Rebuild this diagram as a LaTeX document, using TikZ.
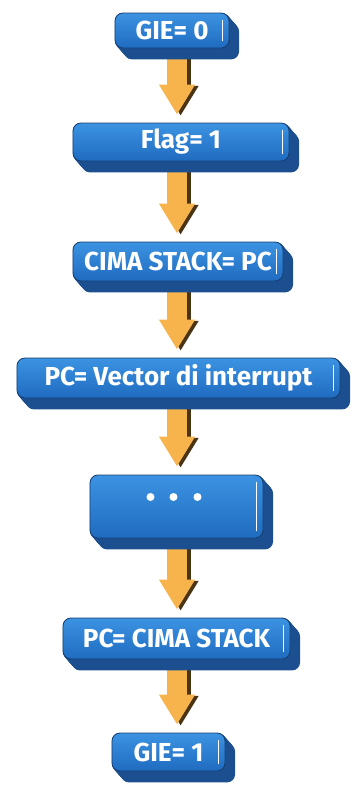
\documentclass[tikz,border=0pt]{standalone}
\usepackage{fontspec}
\setmainfont{Fira Sans}
\usetikzlibrary{arrows.meta}

\definecolor{facetop}{HTML}{3C93E2}
\definecolor{facebot}{HTML}{1F6BC0}
\definecolor{sidecol}{HTML}{1B4F8F}
\definecolor{rimcol}{HTML}{173F72}
\definecolor{arrowcol}{HTML}{F7B44C}
\definecolor{arrowdark}{HTML}{4A3414}

\pgfdeclarelayer{arrowlayer}
\pgfdeclarelayer{sidelayer}
\pgfsetlayers{arrowlayer,sidelayer,main}

\tikzset{
  stepbox/.style={draw=rimcol, line width=0.6pt, rounded corners=0.2cm,
    top color=facetop, bottom color=facebot, text=white, inner sep=0pt,
    font=\fontsize{18.5}{21}\selectfont\bfseries},
  flowarrow/.style={draw=arrowcol, line width=0.5cm,
    -{Triangle[width=0.85cm,length=0.75cm]}, shorten >=0.2cm},
  flowshadow/.style={flowarrow, draw=arrowdark,
    transform canvas={xshift=0.09cm, yshift=-0.03cm}}
}

\begin{document}
\begin{tikzpicture}[x=0.025cm, y=-0.025cm]
  \useasboundingbox (0,0) rectangle (358,785);

  % Steps of the interrupt sequence
  \node[stepbox, minimum width=2.85cm, minimum height=0.875cm] (gie0) at (172,30.5) {GIE= 0};
  \node[stepbox, minimum width=5.4cm, minimum height=0.95cm] (flag) at (181,142) {Flag= 1};
  \node[stepbox, minimum width=5.25cm, minimum height=0.975cm] (push) at (178,261.5) {CIMA STACK= PC};
  \node[stepbox, minimum width=8.075cm, minimum height=1cm] (vector) at (178.5,378) {PC= Vector di interrupt};
  \node[stepbox, minimum width=4.325cm, minimum height=1.575cm] (dots) at (176.5,506.5) {};
  \node[stepbox, minimum width=5.675cm, minimum height=1.025cm] (pop) at (176.5,638.5) {PC= CIMA STACK};
  \node[stepbox, minimum width=2.825cm, minimum height=0.95cm] (gie1) at (168.5,752) {GIE= 1};

  % Dots in the empty step
  \foreach \dx in {-26,-3,21}
    \fill[white] ([shift={(\dx,-9.5)}]dots.center) circle (0.1cm);

  % Extruded sides and highlight bars
  \foreach \n in {gie0,flag,push,vector,dots,pop,gie1} {
    \begin{pgfonlayer}{sidelayer}
      \foreach \k in {1,...,20}
        \fill[sidecol, rounded corners=0.2cm]
          ([shift={({\k*0.48},{\k*0.55})}]\n.north west)
          rectangle ([shift={({\k*0.48},{\k*0.55})}]\n.south east);
    \end{pgfonlayer}
    \draw[white, line width=1pt, line cap=round]
      ([shift={(-7,8)}]\n.north east) -- ([shift={(-7,-8)}]\n.south east);
  }

  % Arrows between the steps
  \coordinate (spine) at (177,0);
  \begin{pgfonlayer}{arrowlayer}
    \foreach \a/\b in {gie0/flag, flag/push, push/vector, vector/dots,
                       dots/pop, pop/gie1} {
      \draw[flowshadow] (\a.south -| spine) -- (\b.north -| spine);
      \draw[flowarrow] (\a.south -| spine) -- (\b.north -| spine);
    }
  \end{pgfonlayer}
\end{tikzpicture}
\end{document}
